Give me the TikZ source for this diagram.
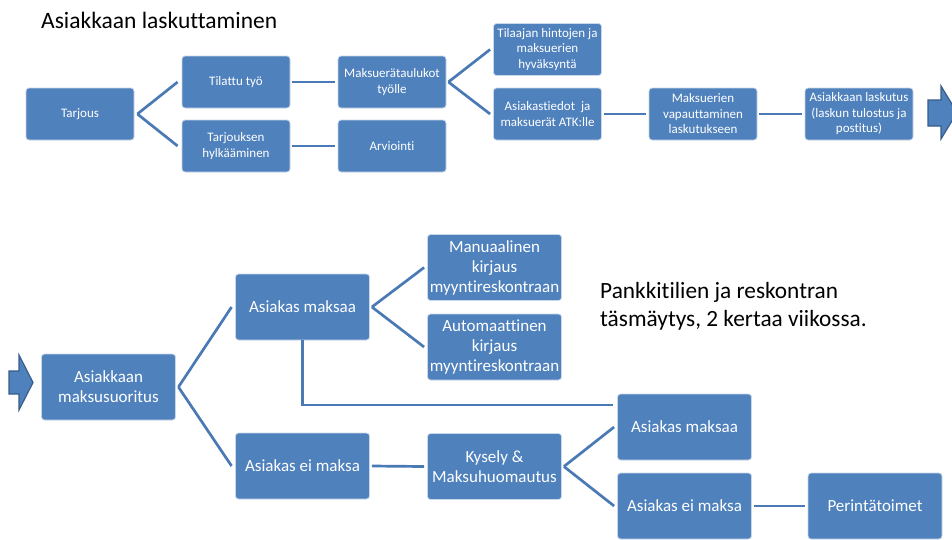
\documentclass[tikz,border=0pt]{standalone}
\usepackage{fontspec}
\setmainfont{Carlito}[Ligatures=NoCommon]
\definecolor{boxblue}{HTML}{4F81BD}
\definecolor{boxedge}{HTML}{C9D7EA}
\definecolor{linkblue}{HTML}{4A7AB5}
\definecolor{arrowedge}{HTML}{385D8A}
\tikzset{
  box/.style={rectangle, rounded corners=3pt, fill=boxblue, draw=boxedge,
    line width=0.8pt, text=white, align=center, inner sep=1pt},
  smallbox/.style={box, minimum width=108pt, minimum height=52pt,
    font=\fontsize{13}{15.5}\selectfont},
  largebox/.style={box, minimum width=134pt, minimum height=66pt,
    font=\fontsize{17}{20}\selectfont},
  link/.style={draw=linkblue, line width=2.7pt},
  blockarrow/.style={fill=boxblue, draw=arrowedge, line width=1.2pt, line join=miter},
}
\begin{document}
\begin{tikzpicture}[x=1pt,y=-1pt]
  \useasboundingbox (0,0) rectangle (952,539);
  \fill[white] (0,0) rectangle (952,539);
  \clip (0,0) rectangle (952,539);

  % ---- invoicing flow ----
  \node[anchor=base west, inner sep=0pt, font=\fontsize{23.5}{28}\selectfont] (title) at (41,28) {Asiakkaan laskuttaminen};

  \node[smallbox] (tarjous)   at (80,114)    {Tarjous};
  \node[smallbox] (tilattu)   at (236,82)    {Tilattu työ};
  \node[smallbox] (hylkays)   at (236,146)   {Tarjouksen\\hylkääminen};
  \node[smallbox] (taulukot)  at (392,82)    {Maksuerätaulukot\\työlle};
  \node[smallbox] (arviointi) at (392,146)   {Arviointi};
  \node[smallbox] (hyvaksynta) at (547.5,49.5) {Tilaajan hintojen ja\\maksuerien\\hyväksyntä};
  \node[smallbox] (atk)       at (547.5,114) {Asiakastiedot~ ja\\maksuerät ATK:lle};
  \node[smallbox] (vapautus)  at (703,114)   {Maksuerien\\vapauttaminen\\laskutukseen};
  \node[smallbox] (laskutus)  at (859,114)   {Asiakkaan laskutus\\(laskun tulostus ja\\postitus)};

  \draw[link] ([xshift=3pt]tarjous.east) -- ([xshift=-4pt]tilattu.west);
  \draw[link] ([xshift=3pt]tarjous.east) -- ([xshift=-4pt]hylkays.west);
  \draw[link] ([xshift=2pt]tilattu.east) -- ([xshift=-3pt]taulukot.west);
  \draw[link] ([xshift=2pt]hylkays.east) -- ([xshift=-3pt]arviointi.west);
  \draw[link] ([xshift=2pt]taulukot.east) -- ([xshift=-3pt]hyvaksynta.west);
  \draw[link] ([xshift=2pt]taulukot.east) -- ([xshift=-3pt]atk.west);
  \draw[link] ([xshift=2pt]atk.east) -- ([xshift=-3pt]vapautus.west);
  \draw[link] ([xshift=2pt]vapautus.east) -- ([xshift=-3pt]laskutus.west);

  % continuation arrow on the right
  \draw[blockarrow] (928,100) -- (941,100) -- (941,86) -- (957,112.5)
    -- (941,139) -- (941,126) -- (928,126) -- cycle;

  % ---- payment flow ----
  \draw[blockarrow] (9,371) -- (19,371) -- (19,355) -- (33,382.5)
    -- (19,410) -- (19,394) -- (9,394) -- cycle;

  \node[largebox] (suoritus) at (108.5,387)  {Asiakkaan\\maksusuoritus};
  \node[largebox] (maksaa)   at (302.5,307)  {Asiakas maksaa};
  \node[largebox] (eimaksa)  at (302.5,466)  {Asiakas ei maksa};
  \node[largebox] (manuaali) at (494.5,267.5) {Manuaalinen\\kirjaus\\myyntireskontraan};
  \node[largebox] (automaat) at (494.5,347)  {Automaattinen\\kirjaus\\myyntireskontraan};
  \node[largebox] (kysely)   at (494.5,466.5) {Kysely \&\\Maksuhuomautus};
  \node[largebox] (maksaa2)  at (684.5,427)  {Asiakas maksaa};
  \node[largebox] (eimaksa2) at (684.5,506)  {Asiakas ei maksa};
  \node[largebox] (perinta)  at (875,506)    {Perintätoimet};

  \node[anchor=west, inner sep=0pt, align=left, font=\fontsize{23.3}{27.7}\selectfont] (note) at (600,306)
    {Pankkitilien ja reskontran\\täsmäytys, 2 kertaa viikossa.};

  \draw[link] ([xshift=2.5pt]suoritus.east) -- ([xshift=-3.5pt]maksaa.west);
  \draw[link] ([xshift=2.5pt]suoritus.east) -- ([xshift=-3.5pt]eimaksa.west);
  \draw[link] ([xshift=2pt]maksaa.east) -- ([xshift=-3pt]manuaali.west);
  \draw[link] ([xshift=2pt]maksaa.east) -- ([xshift=-3pt]automaat.west);
  \draw[link] ([xshift=2pt]eimaksa.east) -- ([xshift=-3pt]kysely.west);
  \draw[link] ([xshift=2pt]kysely.east) -- ([xshift=-3pt]maksaa2.west);
  \draw[link] ([xshift=2pt]kysely.east) -- ([xshift=-3pt]eimaksa2.west);
  \draw[link] ([xshift=2pt]eimaksa2.east) -- ([xshift=-3pt]perinta.west);

  \coordinate (tasmays) at (613,405);
  \draw[link] (maksaa.south) |- (tasmays);
\end{tikzpicture}
\end{document}
